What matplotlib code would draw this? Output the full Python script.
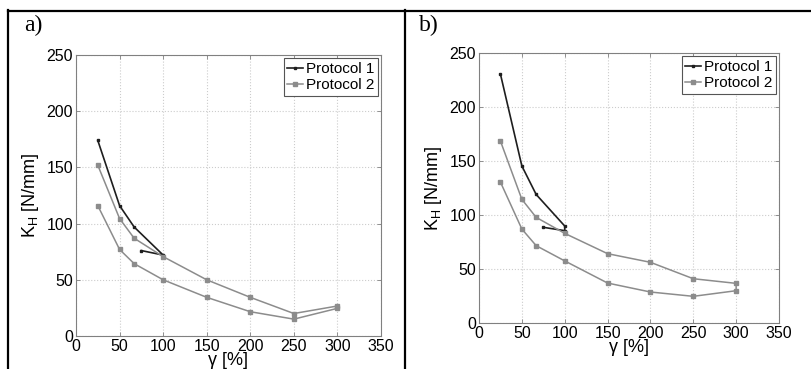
import matplotlib.pyplot as plt
from matplotlib.lines import Line2D

plt.rcParams['font.family'] = ['Liberation Sans', 'DejaVu Sans']
plt.rcParams['mathtext.fontset'] = 'custom'
plt.rcParams['mathtext.rm'] = 'Liberation Sans'
plt.rcParams['mathtext.it'] = 'Liberation Sans'

# panel a) - protocol 1 loads 25 -> 100 then unloads to 75
a_p1_x = [25, 50, 66.7, 100, 75]
a_p1_y = [174, 116, 97, 72, 76]
# protocol 2 goes 25 -> 300 (upper branch) then back 300 -> 25 (lower branch)
a_p2_x = [25, 50, 66.7, 100, 150, 200, 250, 300, 300, 250, 200, 150, 100, 66.7, 50, 25]
a_p2_y = [152, 104.5, 87, 70.6, 50, 34.4, 20, 26.7, 24.6, 15, 21.6, 34.4, 50, 64.4, 77, 116]

# panel b)
b_p1_x = [25, 50, 66.7, 100, 100, 75]
b_p1_y = [230.5, 145.4, 119, 89.8, 85.5, 88.6]
b_p2_x = [25, 50, 66.7, 100, 150, 200, 250, 300, 300, 250, 200, 150, 100, 66.7, 50, 25]
b_p2_y = [168.5, 114.5, 97.8, 83, 64.2, 56.2, 41, 36.7, 29.9, 24.7, 28.7, 37, 57.5, 71.6, 87, 130.5]

xticks = [0, 50, 100, 150, 200, 250, 300, 350]
yticks = [0, 50, 100, 150, 200, 250]

W, H = 812, 369
fig = plt.figure(figsize=(W / 100, H / 100), dpi=100)
fig.patch.set_facecolor('white')

# table-like frame around the panels
for xs, ys in [([8, W], [10.5, 10.5]), ([8, 8], [10, H]), ([405, 405], [10, H])]:
    fig.add_artist(Line2D([x / W for x in xs], [1 - y / H for y in ys],
                          transform=fig.transFigure, color='black', lw=1.6))


def panel(rect, p1x, p1y, p2x, p2y):
    l, r, t, b = rect
    ax = fig.add_axes([l / W, 1 - b / H, (r - l) / W, (b - t) / H])
    ax.plot(p1x, p1y, color='#1e1e1e', lw=1.2, marker='s', ms=2.0, label='Protocol 1')
    ax.plot(p2x, p2y, color='#8c8c8c', lw=1.1, marker='s', ms=2.4, label='Protocol 2')
    ax.set_xlim(0, 350)
    ax.set_ylim(0, 250)
    ax.set_xticks(xticks)
    ax.set_yticks(yticks)
    ax.grid(True, color='#cccccc', linestyle=':', linewidth=0.8)
    ax.tick_params(direction='in', length=3, width=0.6, color='#808080',
                   labelsize=11.5, pad=2, top=True, right=True)
    for s in ax.spines.values():
        s.set_color('#808080')
        s.set_linewidth(0.8)
    ax.set_xlabel('γ [%]', fontsize=13, labelpad=-1)
    ax.set_ylabel(r'K$_\mathrm{H}$ [N/mm]', fontsize=13, labelpad=4)
    leg = ax.legend(loc='upper right', fontsize=11, handlelength=1.0, handletextpad=0.2,
                    borderpad=0.25, labelspacing=0.15, borderaxespad=0.2, fancybox=False,
                    framealpha=1)
    leg.get_frame().set_edgecolor('#555555')
    leg.get_frame().set_linewidth(0.8)
    return ax


panel((76, 381, 55, 336), a_p1_x, a_p1_y, a_p2_x, a_p2_y)
panel((479, 779, 53, 323), b_p1_x, b_p1_y, b_p2_x, b_p2_y)

fig.text(24 / W, 1 - 25 / H, 'a)', family=['Liberation Serif', 'DejaVu Serif'],
         fontsize=17, va='center', ha='left')
fig.text(419 / W, 1 - 25 / H, 'b)', family=['Liberation Serif', 'DejaVu Serif'],
         fontsize=17, va='center', ha='left')

fig.savefig('out.png', dpi=100)
